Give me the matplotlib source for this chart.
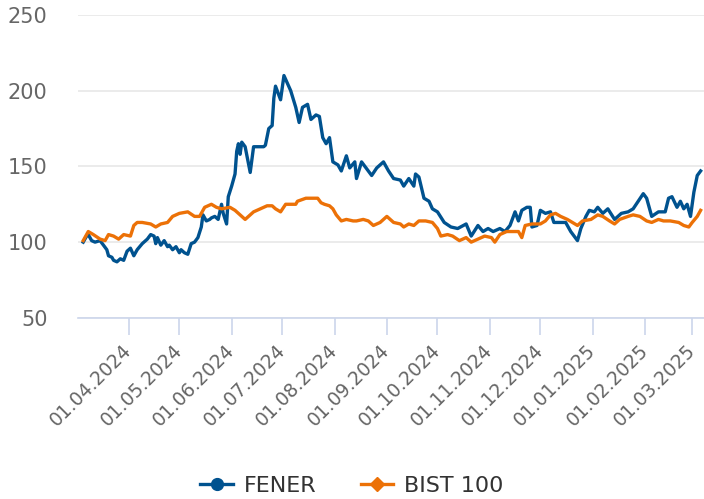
import matplotlib
matplotlib.use("Agg")
import matplotlib.pyplot as plt
import matplotlib.dates as mdates
from matplotlib.lines import Line2D
import pandas as pd

# FENER - normalised (start = 100)
fener_dates = [
    "2024-03-05", "2024-03-07", "2024-03-08", "2024-03-10", "2024-03-12", "2024-03-15",
    "2024-03-17", "2024-03-19", "2024-03-20", "2024-03-22", "2024-03-23", "2024-03-25",
    "2024-03-27", "2024-03-29", "2024-03-31", "2024-04-02", "2024-04-04", "2024-04-06",
    "2024-04-09", "2024-04-12", "2024-04-14", "2024-04-16", "2024-04-17", "2024-04-18",
    "2024-04-20", "2024-04-22", "2024-04-24", "2024-04-25", "2024-04-27", "2024-04-29",
    "2024-05-01", "2024-05-02", "2024-05-04", "2024-05-06", "2024-05-08", "2024-05-10",
    "2024-05-12", "2024-05-14", "2024-05-15", "2024-05-17", "2024-05-19", "2024-05-20",
    "2024-05-22", "2024-05-24", "2024-05-25", "2024-05-26", "2024-05-27", "2024-05-29",
    "2024-05-30", "2024-06-01", "2024-06-03", "2024-06-04", "2024-06-05", "2024-06-06",
    "2024-06-07", "2024-06-09", "2024-06-12", "2024-06-14", "2024-06-17", "2024-06-20",
    "2024-06-21", "2024-06-23", "2024-06-25", "2024-06-26", "2024-06-27", "2024-06-30",
    "2024-07-02", "2024-07-06", "2024-07-09", "2024-07-11", "2024-07-13", "2024-07-16",
    "2024-07-18", "2024-07-21", "2024-07-23", "2024-07-25", "2024-07-27", "2024-07-29",
    "2024-07-31", "2024-08-03", "2024-08-05", "2024-08-08", "2024-08-10", "2024-08-13",
    "2024-08-14", "2024-08-17", "2024-08-21", "2024-08-23", "2024-08-26", "2024-08-30",
    "2024-09-02", "2024-09-05", "2024-09-09", "2024-09-11", "2024-09-14", "2024-09-17",
    "2024-09-18", "2024-09-20", "2024-09-23", "2024-09-26", "2024-09-28", "2024-10-01",
    "2024-10-05", "2024-10-09", "2024-10-13", "2024-10-18", "2024-10-21", "2024-10-25",
    "2024-10-28", "2024-10-31", "2024-11-03", "2024-11-07", "2024-11-10", "2024-11-13",
    "2024-11-16", "2024-11-18", "2024-11-20", "2024-11-23", "2024-11-25", "2024-11-26",
    "2024-11-29", "2024-12-01", "2024-12-04", "2024-12-07", "2024-12-09", "2024-12-13",
    "2024-12-16", "2024-12-19", "2024-12-23", "2024-12-25", "2024-12-28", "2024-12-30",
    "2025-01-02", "2025-01-04", "2025-01-07", "2025-01-10", "2025-01-14", "2025-01-18",
    "2025-01-22", "2025-01-25", "2025-01-28", "2025-01-31", "2025-02-02", "2025-02-05",
    "2025-02-09", "2025-02-13", "2025-02-15", "2025-02-17", "2025-02-20", "2025-02-22",
    "2025-02-24", "2025-02-26", "2025-02-28", "2025-03-02", "2025-03-04", "2025-03-06",
]
fener_values = [
    100, 104, 105, 101, 100, 101,
    98, 95, 91, 90, 88, 87,
    89, 88, 94, 96, 91, 95,
    99, 102, 105, 104, 99, 103,
    98, 101, 97, 98, 95, 97,
    93, 95, 93, 92, 99, 100,
    103, 110, 118, 114, 115, 116,
    117, 115, 120, 125, 119, 112,
    130, 137, 145, 160, 165, 158,
    166, 163, 146, 163, 163, 163,
    164, 175, 177, 195, 203, 194,
    210, 200, 189, 179, 189, 191,
    181, 184, 183, 169, 165, 169,
    153, 151, 147, 157, 149, 153,
    142, 153, 147, 144, 149, 153,
    147, 142, 141, 137, 142, 137,
    145, 143, 129, 127, 122, 120,
    113, 110, 109, 112, 104, 111,
    107, 109, 107, 109, 107, 111,
    120, 114, 121, 123, 123, 110,
    111, 121, 119, 120, 113, 113,
    113, 107, 101, 109, 117, 121,
    120, 123, 119, 122, 115, 119,
    120, 122, 127, 132, 129, 117,
    120, 120, 129, 130, 123, 127,
    122, 125, 117, 133, 144, 147,
]

# BIST 100 - normalised (start = 100)
bist_dates = [
    "2024-03-05", "2024-03-08", "2024-03-11", "2024-03-15", "2024-03-18", "2024-03-20",
    "2024-03-23", "2024-03-26", "2024-03-29", "2024-04-02", "2024-04-04", "2024-04-06",
    "2024-04-09", "2024-04-14", "2024-04-17", "2024-04-20", "2024-04-24", "2024-04-27",
    "2024-05-01", "2024-05-06", "2024-05-10", "2024-05-13", "2024-05-16", "2024-05-20",
    "2024-05-23", "2024-05-26", "2024-05-31", "2024-06-03", "2024-06-06", "2024-06-09",
    "2024-06-11", "2024-06-14", "2024-06-18", "2024-06-22", "2024-06-25", "2024-06-27",
    "2024-06-30", "2024-07-03", "2024-07-06", "2024-07-09", "2024-07-10", "2024-07-15",
    "2024-07-19", "2024-07-22", "2024-07-24", "2024-07-26", "2024-07-29", "2024-07-31",
    "2024-08-02", "2024-08-05", "2024-08-08", "2024-08-12", "2024-08-14", "2024-08-18",
    "2024-08-21", "2024-08-24", "2024-08-28", "2024-09-01", "2024-09-05", "2024-09-09",
    "2024-09-11", "2024-09-14", "2024-09-17", "2024-09-20", "2024-09-24", "2024-09-28",
    "2024-10-01", "2024-10-03", "2024-10-07", "2024-10-10", "2024-10-14", "2024-10-18",
    "2024-10-21", "2024-10-25", "2024-10-29", "2024-11-02", "2024-11-04", "2024-11-07",
    "2024-11-11", "2024-11-15", "2024-11-18", "2024-11-20", "2024-11-22", "2024-11-26",
    "2024-12-01", "2024-12-04", "2024-12-07", "2024-12-10", "2024-12-13", "2024-12-17",
    "2024-12-20", "2024-12-23", "2024-12-26", "2024-12-31", "2025-01-04", "2025-01-07",
    "2025-01-11", "2025-01-14", "2025-01-17", "2025-01-22", "2025-01-25", "2025-01-29",
    "2025-02-02", "2025-02-05", "2025-02-09", "2025-02-12", "2025-02-16", "2025-02-21",
    "2025-02-24", "2025-02-27", "2025-03-01", "2025-03-04", "2025-03-06",
]
bist_values = [
    101, 107, 105, 102, 101, 105,
    104, 102, 105, 104, 111, 113,
    113, 112, 110, 112, 113, 117,
    119, 120, 117, 117, 123, 125,
    123, 122, 123, 121, 118, 115,
    117, 120, 122, 124, 124, 122,
    120, 125, 125, 125, 127, 129,
    129, 129, 126, 125, 124, 122,
    118, 114, 115, 114, 114, 115,
    114, 111, 113, 117, 113, 112,
    110, 112, 111, 114, 114, 113,
    109, 104, 105, 104, 101, 103,
    100, 102, 104, 103, 100, 105,
    107, 107, 107, 103, 111, 112,
    112, 114, 118, 119, 117, 115,
    113, 111, 114, 115, 118, 117,
    114, 112, 115, 117, 118, 117,
    114, 113, 115, 114, 114, 113,
    111, 110, 113, 117, 121,
]

tick_dates = ["2024-04-01", "2024-05-01", "2024-06-01", "2024-07-01", "2024-08-01",
              "2024-09-01", "2024-10-01", "2024-11-01", "2024-12-01", "2025-01-01",
              "2025-02-01", "2025-03-01"]
y_ticks = [50, 100, 150, 200, 250]

FENER_COLOR = "#00528f"
BIST_COLOR = "#ec7107"

plt.rcParams['font.family'] = ['DejaVu Sans']

fig = plt.figure(figsize=(7.04, 4.99), dpi=100)
ax = fig.add_axes([0.111, 0.363, 0.889, 0.607])

ax.plot(pd.to_datetime(fener_dates), fener_values, color=FENER_COLOR, lw=2.4,
        solid_joinstyle='round')
ax.plot(pd.to_datetime(bist_dates), bist_values, color=BIST_COLOR, lw=2.4,
        solid_joinstyle='round')

ax.set_ylim(50, 250)
ax.set_yticks(y_ticks)
ax.set_xlim(pd.Timestamp("2024-03-02"), pd.Timestamp("2025-03-08"))
ax.set_xticks(pd.to_datetime(tick_dates))
ax.xaxis.set_major_formatter(mdates.DateFormatter("%d.%m.%Y"))

ax.grid(axis='y', color='#e6e6e6', lw=1.1)
ax.set_axisbelow(True)
for side in ['top', 'right', 'left']:
    ax.spines[side].set_visible(False)
ax.spines['bottom'].set_color('#ccd6eb')
ax.spines['bottom'].set_linewidth(1.2)

ax.tick_params(axis='y', length=0, pad=22, labelsize=15, labelcolor='#666666')
ax.tick_params(axis='x', length=12.5, width=1.2, color='#ccd6eb', pad=9,
               labelsize=13.5, labelcolor='#666666')
for lab in ax.get_xticklabels():
    lab.set_rotation(45)
    lab.set_ha('right')
    lab.set_va('center')
    lab.set_rotation_mode('anchor')

handles = [
    Line2D([], [], color=FENER_COLOR, lw=2.4, marker='o', markersize=8.5),
    Line2D([], [], color=BIST_COLOR, lw=2.4, marker='D', markersize=7),
]
fig.legend(handles, ["FENER", "BIST 100"], loc='center', bbox_to_anchor=(0.5, 0.026),
           ncol=2, frameon=False, fontsize=16, handlelength=1.45, columnspacing=2.0,
           handletextpad=0.5, labelcolor='#333333', numpoints=1)

fig.savefig("out.png", dpi=100)
